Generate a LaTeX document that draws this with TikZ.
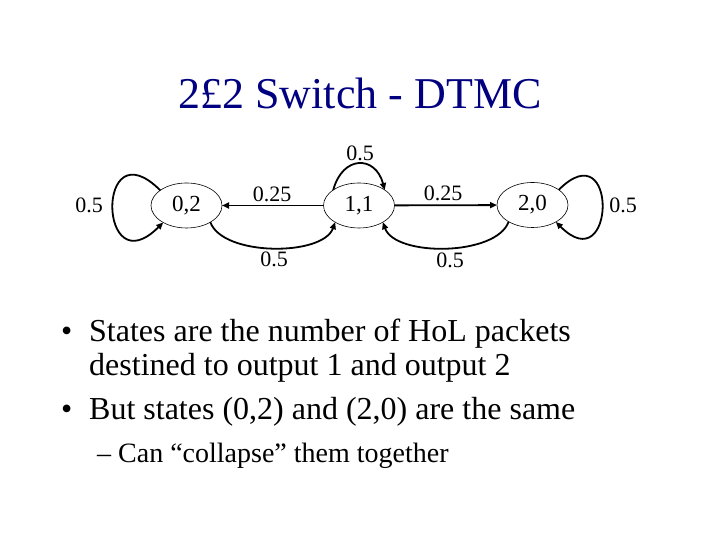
\documentclass[tikz,border=0pt]{standalone}
\usepackage{fontspec}
\setmainfont{Liberation Serif}
\usepackage{tikz}
\usetikzlibrary{arrows.meta,shapes.geometric}
\definecolor{titleblue}{RGB}{0,0,128}

\begin{document}
\begin{tikzpicture}[
		x=1pt, y=1pt,
		statenode/.style={ellipse,draw,line width=0.6pt,minimum width=71pt,minimum height=45pt,inner sep=0pt,outer sep=0pt,font=\fontsize{23}{27}\selectfont},
		trans/.style={line width=1.8pt,-{Triangle[length=7pt,width=6pt]}},
		prob/.style={font=\fontsize{22}{26}\selectfont,inner sep=0pt},
		bullettext/.style={anchor=base west,inner sep=0pt,font=\fontsize{32}{36}\selectfont},
		subtext/.style={anchor=base west,inner sep=0pt,font=\fontsize{28}{32}\selectfont}
	]

	\useasboundingbox (0,0) rectangle (720,540);

	\node[anchor=base,inner sep=0pt,text=titleblue,font=\fontsize{44}{52}\selectfont] (title) at (360,431) {2£2 Switch - DTMC};

	% states
	\node[statenode] (s02) at (186.5,334.5) {0,2};
	\node[statenode] (s11) at (359,334.5) {1,1};
	\node[statenode] (s20) at (532.5,335) {2,0};

	% transitions
	\draw[trans] (s02.150) to[out=135,in=225,looseness=7.3] (s02.216);
	\draw[trans] (s11.149) to[out=75,in=105,looseness=1.8] (s11.31);
	\draw[trans] (s20.30) to[out=45,in=-45,looseness=6.7] (s20.-36);
	\draw[trans] (s11) -- (s02);
	\draw[trans] (s11) -- (s20);
	\draw[trans] (s02.-35) to[out=-70,in=-110,looseness=0.75] (s11.-145);
	\draw[trans] (s20.-145) to[out=-110,in=-70,looseness=0.75] (s11.-35);

	% probabilities
	\node[prob] (p02) at (89,335) {0.5};
	\node[prob] (p11) at (360,387) {0.5};
	\node[prob] (p20) at (623,335) {0.5};
	\node[prob] (pl) at (272,346) {0.25};
	\node[prob] (pr) at (443,347) {0.25};
	\node[prob] (ql) at (274,281) {0.5};
	\node[prob] (qr) at (450,280) {0.5};

	% text
	\node[bullettext] (b1) at (61,198) {•};
	\node[bullettext] (t1) at (89,198) {States are the number of HoL packets};
	\node[bullettext] (t2) at (89,164) {destined to output 1 and output 2};
	\node[bullettext] (b2) at (61,120) {•};
	\node[bullettext] (t3) at (89,120) {But states (0,2) and (2,0) are the same};
	\node[subtext] (t4) at (97,77) {– Can “collapse” them together};

\end{tikzpicture}
\end{document}
